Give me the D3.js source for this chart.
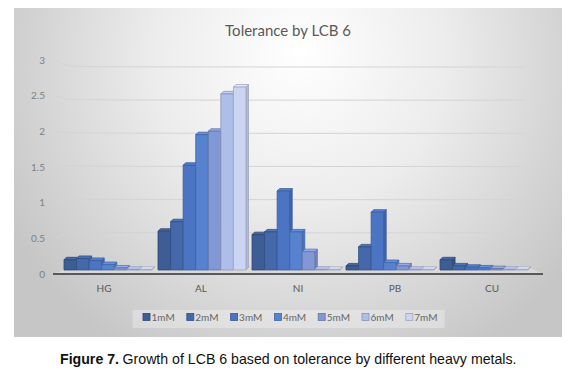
<!DOCTYPE html>
<html><head><meta charset="utf-8">
<script src="https://cdn.jsdelivr.net/npm/d3@7"></script>
<style>html,body{margin:0;padding:0;background:#fff;}svg{display:block;}</style>
</head><body>
<script>
// ---- data ----
const categories = ["HG", "AL", "NI", "PB", "CU"];
const seriesNames = ["1mM", "2mM", "3mM", "4mM", "5mM", "6mM", "7mM"];
const hg = [0.15, 0.17, 0.14, 0.08, 0.03, 0.01, 0.01];
const al = [0.57, 0.71, 1.54, 1.99, 2.04, 2.59, 2.69];
const ni = [0.52, 0.56, 1.16, 0.56, 0.27, 0.01, 0.01];
const pb = [0.06, 0.34, 0.85, 0.11, 0.06, 0.01, 0.01];
const cu = [0.15, 0.06, 0.04, 0.03, 0.02, 0.01, 0.01];
const yTicks = [0, 0.5, 1, 1.5, 2, 2.5, 3];
const yTickLabels = ["0", "0.5", "1", "1.5", "2", "2.5", "3"];
const titleText = "Tolerance by LCB 6";
const captionBold = "Figure 7.";
const captionText = "Growth of LCB 6 based on tolerance by different heavy metals.";

const values = [hg, al, ni, pb, cu];
const colors = ["#3d5d95", "#4468aa", "#4b75c3", "#5682cf", "#8298d6", "#afbde9", "#cbd5f2"];

const W = 579, H = 382;
const svg = d3.select("body").append("svg").attr("width", W).attr("height", H);
const defs = svg.append("defs");
const rg = defs.append("radialGradient").attr("id", "bg")
  .attr("gradientUnits", "userSpaceOnUse").attr("cx", 300).attr("cy", 70).attr("r", 330)
  .attr("fx", 300).attr("fy", 50);
rg.append("stop").attr("offset", "0").attr("stop-color", "#ffffff");
rg.append("stop").attr("offset", "0.45").attr("stop-color", "#ececec");
rg.append("stop").attr("offset", "1").attr("stop-color", "#c6c6c6");

// panel
svg.append("rect").attr("x", 14).attr("y", 8).attr("width", 548).attr("height", 329).attr("fill", "url(#bg)");

// scales
const yLabel = d3.scaleLinear().domain([0, 3]).range([274, 60]);
const yGrid = d3.scaleLinear().domain([0, 3]).range([266, 67]);
const yBar = d3.scaleLinear().domain([0, 3]).range([270, 66]);
const xLabel = d3.scaleBand().domain(categories).range([55.5, 540.5]);
const xGroup = d3.scaleBand().domain(categories).range([61, 531]).paddingInner(0.064).paddingOuter(0.032);
const xSeries = d3.scaleBand().domain(seriesNames).range([0, xGroup.bandwidth()]);

const wallL = 74, wallR = 526;

// floor
svg.append("path")
  .attr("d", `M53,${yBar(0) + 4} L543,${yBar(0) + 4} L${wallR},${yGrid(0)} L${wallL},${yGrid(0)} Z`)
  .attr("fill", "#d9d9d9");

// gridlines
const line = d3.line().curve(d3.curveBasis);
svg.append("g").selectAll("path").data(yTicks.filter(d => d > 0)).join("path")
  .attr("d", d => line([[56, yLabel(d)], [66, yGrid(d) - 1], [wallL, yGrid(d)], [wallR, yGrid(d)]]))
  .attr("fill", "none").attr("stroke", "#d4d4d4").attr("stroke-width", 1);

// y labels
svg.append("g").selectAll("text").data(yTicks).join("text")
  .attr("x", 45).attr("y", d => yLabel(d) + 3.5)
  .attr("text-anchor", "end").attr("font-family", "Lato, sans-serif").attr("font-size", 10)
  .attr("fill", "#808080").text((d, i) => yTickLabels[i]);

// bars (3D)
const dx = 2.5, dy = 2.5;
const barsG = svg.append("g");
categories.forEach((c, ci) => {
  seriesNames.forEach((s, si) => {
    const v = values[ci][si];
    const x = xGroup(c) + xSeries(s), w = xSeries.bandwidth();
    const y0 = yBar(0), y1 = yBar(v);
    const col = d3.color(colors[si]);
    const stroke = d3.color(colors[si]).darker(0.7).formatHex();
    const g = barsG.append("g").attr("stroke", stroke).attr("stroke-width", 0.8).attr("stroke-linejoin", "round");
    g.append("path").attr("d", `M${x + w},${y1} L${x + w + dx},${y1 - dy} L${x + w + dx},${y0 - dy} L${x + w},${y0} Z`)
      .attr("fill", col.darker(0.35).formatHex());
    g.append("path").attr("d", `M${x},${y1} L${x + dx},${y1 - dy} L${x + w + dx},${y1 - dy} L${x + w},${y1} Z`)
      .attr("fill", col.brighter(0.3).formatHex());
    g.append("rect").attr("x", x).attr("y", y1).attr("width", w).attr("height", y0 - y1)
      .attr("fill", colors[si]);
  });
});

// baseline
svg.append("line").attr("x1", 53).attr("x2", 543).attr("y1", yBar(0) + 4).attr("y2", yBar(0) + 4)
  .attr("stroke", "#595959").attr("stroke-width", 2);

// category labels
svg.append("g").selectAll("text").data(categories).join("text")
  .attr("x", d => xLabel(d) + xLabel.bandwidth() / 2).attr("y", 292)
  .attr("text-anchor", "middle").attr("font-family", "Lato, sans-serif").attr("font-size", 10)
  .attr("fill", "#595959").text(d => d);

// title
svg.append("text").attr("x", 288).attr("y", 36).attr("text-anchor", "middle")
  .attr("font-family", "Lato, sans-serif").attr("font-size", 15).attr("fill", "#595959").text(titleText);

// legend
svg.append("rect").attr("x", 132.5).attr("y", 310).attr("width", 312).attr("height", 18)
  .attr("fill", "#ffffff").attr("fill-opacity", 0.3);
const lg = svg.append("g").selectAll("g").data(seriesNames).join("g")
  .attr("transform", (d, i) => `translate(${143 + i * 43.8},0)`);
lg.append("rect").attr("x", 0).attr("y", 313.5).attr("width", 7).attr("height", 7)
  .attr("fill", (d, i) => colors[i]).attr("stroke", (d, i) => d3.color(colors[i]).darker(0.7).formatHex()).attr("stroke-width", 0.8);
lg.append("text").attr("x", 8.5).attr("y", 320.5).attr("font-family", "Lato, sans-serif").attr("font-size", 10)
  .attr("fill", "#666666").text(d => d);

// caption: two text pieces, sized to span the reference width
const capFont = "'Liberation Sans Narrow', 'Liberation Sans', sans-serif";
const capX = 60, capW = 457, capY = 364;
const capB = svg.append("text").attr("x", capX).attr("y", capY).attr("font-family", capFont)
  .attr("font-size", 16).attr("font-weight", "bold").attr("fill", "#111").text(captionBold);
const capN = svg.append("text").attr("y", capY).attr("font-family", capFont)
  .attr("font-size", 16).attr("fill", "#111").text(captionText);
const gap = 4;
const natural = capB.node().getComputedTextLength() + capN.node().getComputedTextLength() + gap;
const fs = Math.min(17, 16 * capW / natural);
capB.attr("font-size", fs);
capN.attr("font-size", fs);
const bw = capB.node().getComputedTextLength();
capN.attr("x", capX + bw + gap * fs / 16);
</script>
</body></html>
